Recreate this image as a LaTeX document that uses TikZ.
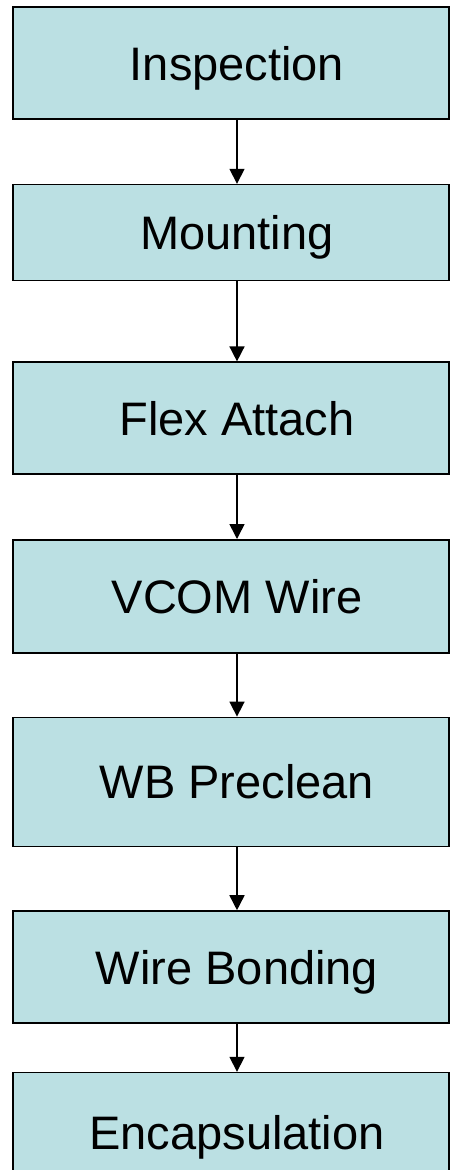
\documentclass[tikz,border=0pt]{standalone}
\usepackage{fontspec}
\setmainfont{Liberation Sans}
\usepackage{tikz}
\usetikzlibrary{arrows.meta,positioning}

\definecolor{stepfill}{RGB}{187,224,227}

\begin{document}
\begin{tikzpicture}[
    node distance=64pt,
    box/.style={rectangle, draw=black, fill=stepfill, line width=1.6pt,
        minimum width=436pt, inner sep=0pt, align=center,
        text height=34pt, text depth=0pt,
        font=\fontsize{47pt}{56pt}\selectfont,
        execute at begin node=\hspace{12pt}},
    arrow/.style={-{Triangle[width=15pt,length=15pt]}, line width=1.6pt}
]
    \useasboundingbox (0,0) rectangle (450pt,-1170pt);
    \clip (0,0) rectangle (450pt,-1170pt);

    % Process steps
    \node[box, minimum height=112pt] (insp) at (231pt,-63pt) {Inspection};
    \node[box, minimum height=96pt, below=of insp] (mount) {Mounting};
    \node[box, minimum height=112pt, below=80pt of mount] (flex) {Flex Attach};
    \node[box, minimum height=113pt, below=of flex] (vcom) {VCOM Wire};
    \node[box, minimum height=129pt, below=63pt of vcom] (preclean) {WB Preclean};
    \node[box, minimum height=112pt, below=63pt of preclean] (bond) {Wire Bonding};
    \node[box, minimum height=120pt, below=48pt of bond] (encap) {Encapsulation};

    % Arrows between steps
    \foreach \a/\b in {insp/mount, mount/flex, flex/vcom, vcom/preclean, preclean/bond, bond/encap}
        \draw[arrow] ([xshift=6pt]\a.south) -- ([xshift=6pt]\b.north);

\end{tikzpicture}
\end{document}
